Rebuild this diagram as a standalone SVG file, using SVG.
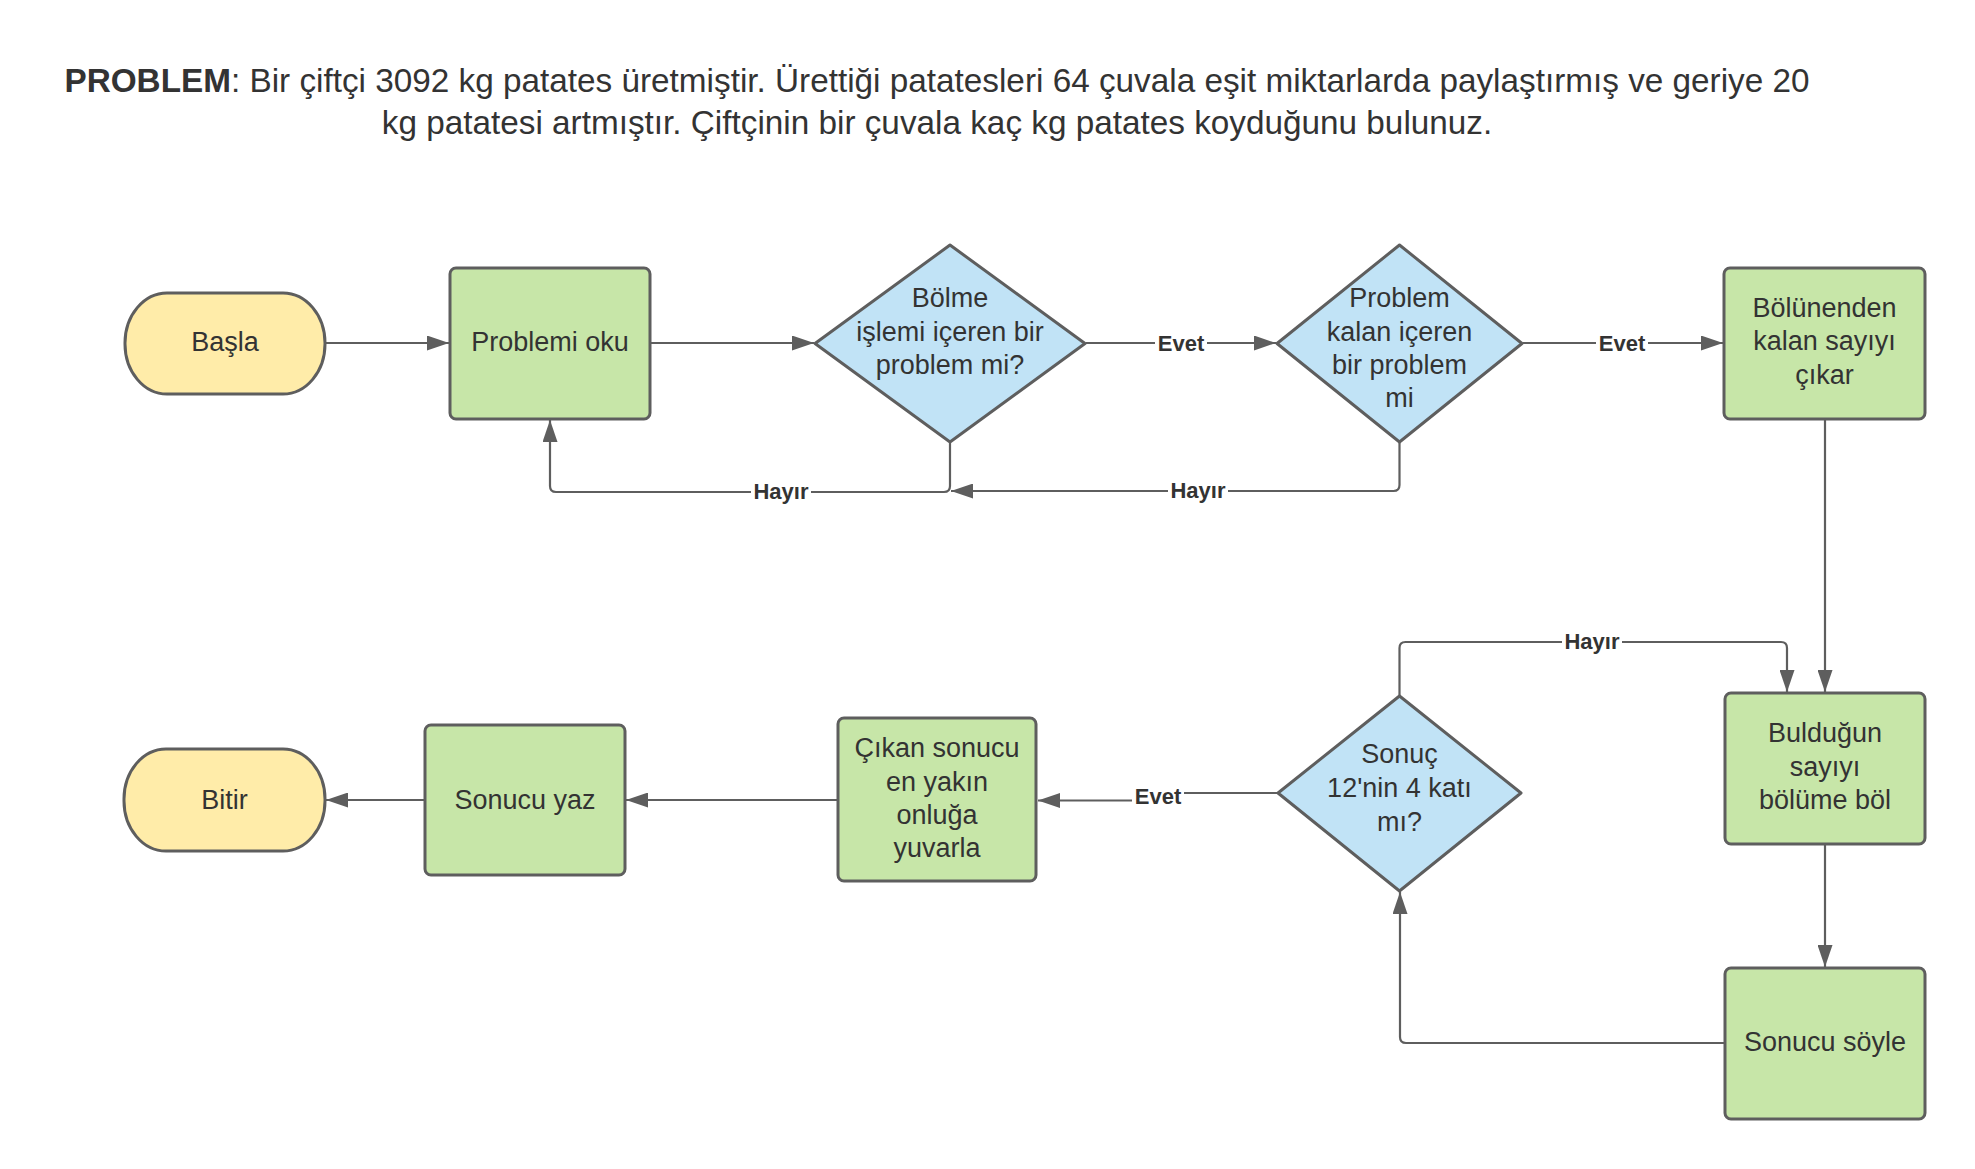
<svg xmlns="http://www.w3.org/2000/svg" width="1975" height="1169" viewBox="0 0 1975 1169">
<defs>
<marker id="arr" viewBox="0 0 22 15" refX="22" refY="7.5" markerWidth="22" markerHeight="15" markerUnits="userSpaceOnUse" orient="auto">
<path d="M0,0 L22,7.5 L0,15 z" fill="#5e5e5e"/>
</marker>
<style>
.term{fill:#ffeca9;stroke:#5e5e5e;stroke-width:3}
.proc{fill:#c7e6a8;stroke:#5e5e5e;stroke-width:3}
.dec{fill:#c1e3f6;stroke:#5e5e5e;stroke-width:3;stroke-linejoin:round}
.t{font-family:"Liberation Sans",Arial,sans-serif;font-size:27px;fill:#333333;text-anchor:middle}
.title{font-family:"Liberation Sans",Arial,sans-serif;font-size:33.3px;fill:#333333;text-anchor:middle}
.conn path{fill:none;stroke:#5e5e5e;stroke-width:2.2}
.lbl rect{fill:#ffffff}
.lbl text{font-family:"Liberation Sans",Arial,sans-serif;font-size:22px;font-weight:bold;fill:#333333;text-anchor:middle}
</style>
</defs>
<rect width="1975" height="1169" fill="#ffffff"/>
<g id="title">
<text class="title" x="937" y="92"><tspan font-weight="bold">PROBLEM</tspan>: Bir çiftçi 3092 kg patates üretmiştir. Ürettiği patatesleri 64 çuvala eşit miktarlarda paylaştırmış ve geriye 20</text>
<text class="title" x="937" y="134">kg patatesi artmıştır. Çiftçinin bir çuvala kaç kg patates koyduğunu bulunuz.</text>
</g>
<g id="connectors" class="conn">
<path d="M326,343 H449" marker-end="url(#arr)"/>
<path d="M651,343 H814" marker-end="url(#arr)"/>
<path d="M1086,343 H1276" marker-end="url(#arr)"/>
<path d="M1523,343 H1723" marker-end="url(#arr)"/>
<path d="M950,443 V486 Q950,492 944,492 H556 Q550,492 550,486 V420" marker-end="url(#arr)"/>
<path d="M1399.5,443 V485 Q1399.5,491 1393.5,491 H951" marker-end="url(#arr)"/>
<path d="M1825,420 V692" marker-end="url(#arr)"/>
<path d="M1399.5,695 V648 Q1399.5,642 1405.5,642 H1781 Q1787,642 1787,648 V692" marker-end="url(#arr)"/>
<path d="M1825,845 V967" marker-end="url(#arr)"/>
<path d="M1724,1043 H1406 Q1400,1043 1400,1037 V892" marker-end="url(#arr)"/>
<path d="M1277,793 H1157 V800.5 H1038" marker-end="url(#arr)"/>
<path d="M837,800 H626" marker-end="url(#arr)"/>
<path d="M424,800 H326" marker-end="url(#arr)"/>
<g class="lbl">
<rect x="1155" y="330" width="52" height="26"/><text x="1181" y="351">Evet</text>
<rect x="1596" y="330" width="52" height="26"/><text x="1622" y="351">Evet</text>
<rect x="751" y="479" width="60" height="26"/><text x="781" y="499">Hayır</text>
<rect x="1168" y="478" width="60" height="26"/><text x="1198" y="498">Hayır</text>
<rect x="1562" y="629" width="60" height="26"/><text x="1592" y="649">Hayır</text>
<rect x="1132" y="783" width="52" height="26"/><text x="1158" y="804">Evet</text>
</g>
</g>
<g id="basla"><rect class="term" x="125" y="293" width="200" height="101" rx="42" ry="50"/><text class="t" x="225" y="351">Başla</text></g>
<g id="problemi-oku"><rect class="proc" x="450" y="268" width="200" height="151" rx="6"/><text class="t" x="550" y="351">Problemi oku</text></g>
<g id="karar-bolme"><polygon class="dec" points="950,245 1085,343.5 950,442 815,343.5"/>
<text class="t" x="950" y="307">Bölme</text><text class="t" x="950" y="340.5">işlemi içeren bir</text><text class="t" x="950" y="374">problem mi?</text></g>
<g id="karar-kalan"><polygon class="dec" points="1399.5,245 1522,343.5 1399.5,442 1277,343.5"/>
<text class="t" x="1399.5" y="307">Problem</text><text class="t" x="1399.5" y="340.5">kalan içeren</text><text class="t" x="1399.5" y="374">bir problem</text><text class="t" x="1399.5" y="407">mi</text></g>
<g id="bolunenden"><rect class="proc" x="1724" y="268" width="201" height="151" rx="6"/>
<text class="t" x="1824.5" y="316.5">Bölünenden</text><text class="t" x="1824.5" y="350">kalan sayıyı</text><text class="t" x="1824.5" y="383.5">çıkar</text></g>
<g id="buldugun"><rect class="proc" x="1725" y="693" width="200" height="151" rx="6"/>
<text class="t" x="1825" y="742">Bulduğun</text><text class="t" x="1825" y="775.5">sayıyı</text><text class="t" x="1825" y="809">bölüme böl</text></g>
<g id="sonucu-soyle"><rect class="proc" x="1725" y="968" width="200" height="151" rx="6"/><text class="t" x="1825" y="1051">Sonucu söyle</text></g>
<g id="karar-sonuc"><polygon class="dec" points="1399.5,696 1521,793 1399.5,891 1278,793"/>
<text class="t" x="1399.5" y="763">Sonuç</text><text class="t" x="1399.5" y="797">12'nin 4 katı</text><text class="t" x="1399.5" y="830.5">mı?</text></g>
<g id="cikan-sonucu"><rect class="proc" x="838" y="718" width="198" height="163" rx="6"/>
<text class="t" x="937" y="757">Çıkan sonucu</text><text class="t" x="937" y="790.5">en yakın</text><text class="t" x="937" y="824">onluğa</text><text class="t" x="937" y="857">yuvarla</text></g>
<g id="sonucu-yaz"><rect class="proc" x="425" y="725" width="200" height="150" rx="6"/><text class="t" x="525" y="808.5">Sonucu yaz</text></g>
<g id="bitir"><rect class="term" x="124" y="749" width="201" height="102" rx="42" ry="50"/><text class="t" x="224.5" y="808.5">Bitir</text></g>
</svg>
